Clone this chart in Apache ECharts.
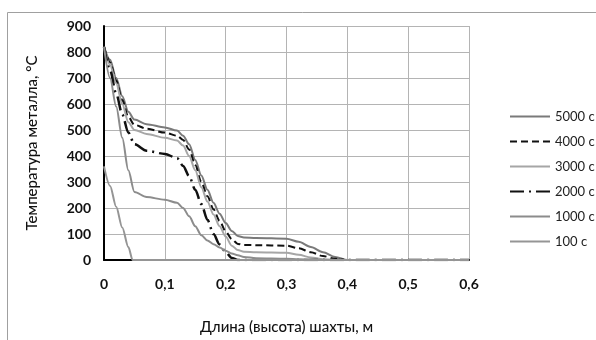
<!DOCTYPE html>
<html>
<head>
<meta charset="utf-8">
<script src="https://cdn.jsdelivr.net/npm/echarts@6/dist/echarts.min.js"></script>
<style>
	html, body { margin: 0; padding: 0; background: #fff; }
	#chart { width: 596px; height: 340px; }
</style>
</head>
<body>
<div id="chart"></div>
<script>
// общие точки по длине шахты, м
var xPos = [0, 0.01, 0.02, 0.03, 0.04, 0.05, 0.07, 0.1, 0.12, 0.13, 0.14, 0.15, 0.16, 0.17, 0.18, 0.19, 0.2, 0.21, 0.22, 0.23, 0.25, 0.3, 0.32, 0.34, 0.36, 0.38, 0.4, 0.6];
var t5000 = [820, 770, 700, 630, 570, 540, 522, 510, 498, 478, 445, 385, 325, 270, 220, 178, 142, 112, 92, 87, 85, 82, 70, 50, 30, 12, 0, 0];
var t4000 = [820, 760, 690, 615, 550, 520, 505, 490, 478, 462, 425, 365, 300, 245, 195, 150, 110, 80, 62, 58, 57, 55, 45, 30, 15, 5, 0, 0];
var t3000 = [820, 750, 680, 600, 530, 500, 485, 470, 460, 440, 400, 345, 280, 225, 175, 130, 90, 55, 38, 32, 30, 28, 20, 10, 3, 0, 0, 0];
var t2000 = [820, 730, 640, 560, 490, 445, 420, 408, 392, 362, 322, 270, 215, 155, 100, 60, 30, 8, 0, 0, 0, 0, 0, 0, 0, 0, 0, 0];
var t1000 = [820, 700, 590, 470, 345, 262, 242, 232, 220, 200, 168, 130, 95, 75, 61, 48, 36, 25, 18, 12, 7, 5, 3, 1, 0, 0, 0, 0];
var x100 = [0, 0.01, 0.02, 0.03, 0.04, 0.047, 0.6];
var t100 = [360, 285, 205, 125, 50, 0, 0];

var yTicks = [0, 100, 200, 300, 400, 500, 600, 700, 800, 900];
var xTicks = [0, 0.1, 0.2, 0.3, 0.4, 0.5, 0.6];

function zip(xs, ys) {
	var res = [];
	for (var i = 0; i < xs.length; i++) {
		res.push([xs[i], ys[i]]);
	}
	return res;
}

var myChart = echarts.init(document.getElementById('chart'));

function line(name, xs, ys, color, type, width) {
	return {
		name: name,
		type: 'line',
		data: zip(xs, ys),
		symbol: 'none',
		smooth: 0.3,
		smoothMonotone: 'x',
		lineStyle: { color: color, width: width, type: type },
		itemStyle: { color: color },
		z: 3
	};
}

var option = {
	animation: false,
	backgroundColor: '#fff',
	textStyle: { fontFamily: 'Lato' },
	graphic: [{
		type: 'rect',
		left: 5, top: 10,
		shape: { width: 600, height: 340 },
		style: { fill: 'none', stroke: '#a0a0a0', lineWidth: 1 },
		silent: true
	}],
	grid: { left: 104, right: 127, top: 26, bottom: 77 },
	legend: {
		orient: 'vertical',
		left: 504, top: 105,
		itemWidth: 40, itemHeight: 14, itemGap: 12,
		itemStyle: { opacity: 0 },
		textStyle: { fontSize: 13, color: '#222', fontFamily: 'Lato' },
		data: ['5000 с', '4000 с', '3000 с', '2000 с', '1000 с', '100 с']
	},
	xAxis: {
		type: 'value',
		min: xTicks[0], max: xTicks[xTicks.length - 1], interval: 0.1,
		name: 'Длина (высота) шахты, м',
		nameLocation: 'middle', nameGap: 60,
		nameTextStyle: { fontSize: 15, color: '#111', fontFamily: 'Lato', fontWeight: 500 },
		axisLine: { lineStyle: { color: '#000', width: 2 } },
		axisTick: { show: false },
		axisLabel: {
			margin: 17, fontSize: 14, fontWeight: 'bold', color: '#111',
			formatter: function (v) { return v === 0 ? '0' : v.toFixed(1).replace('.', ','); }
		},
		splitLine: { show: true, lineStyle: { color: '#b4b4b4', width: 1 } }
	},
	yAxis: {
		type: 'value',
		min: yTicks[0], max: yTicks[yTicks.length - 1], interval: 100,
		name: 'Температура металла, °С',
		nameLocation: 'middle', nameGap: 64,
		nameTextStyle: { fontSize: 15, color: '#111', fontFamily: 'Lato', fontWeight: 500 },
		axisLine: { show: true, lineStyle: { color: '#000', width: 2 } },
		axisTick: { show: false },
		axisLabel: { margin: 13, fontSize: 14, fontWeight: 'bold', color: '#111' },
		splitLine: { show: true, lineStyle: { color: '#b4b4b4', width: 1 } }
	},
	series: [
		line('5000 с', xPos, t5000, '#7a7a7a', 'solid', 2),
		line('4000 с', xPos, t4000, '#111', [7, 4], 2),
		line('3000 с', xPos, t3000, '#a6a6a6', 'solid', 2),
		line('2000 с', xPos, t2000, '#111', [14, 5, 2, 5], 2.5),
		line('1000 с', xPos, t1000, '#8c8c8c', 'solid', 2),
		line('100 с', x100, t100, '#959595', 'solid', 2)
	]
};
myChart.setOption(option);
</script>
</body>
</html>
